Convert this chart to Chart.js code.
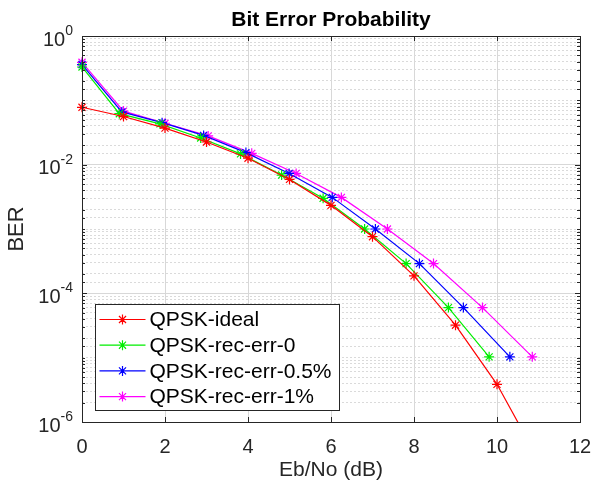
<!DOCTYPE html>
<html>
<head>
<meta charset="utf-8">
<script src="https://cdn.jsdelivr.net/npm/chart.js@4.4.1/dist/chart.umd.min.js"></script>
<style>
  html, body { margin: 0; padding: 0; background: #fff; }
  canvas { display: block; }
</style>
</head>
<body>
<canvas id="ber" width="595" height="486"></canvas>
<script>
// Eb/No (dB) and measured BER for each receiver
var ebnoIdeal = [0, 1, 2, 3, 4, 5, 6, 7, 8, 9, 10, 11];
var berIdeal  = [7.8e-2, 5.6e-2, 3.7e-2, 2.25e-2, 1.26e-2, 5.9e-3, 2.33e-3, 7.6e-4, 1.87e-4, 3.2e-5, 3.85e-6, 2.6e-7];

var ebnoErr0 = [0, 0.9, 1.88, 2.86, 3.82, 4.81, 5.81, 6.81, 7.81, 8.83, 9.81];
var berErr0  = [0.33, 0.062, 0.043, 0.026, 0.0147, 0.0069, 0.0030, 1.0e-3, 2.9e-4, 6.0e-5, 1.03e-5];

var ebnoErr05 = [0, 0.96, 1.93, 2.93, 3.95, 4.99, 6.03, 7.07, 8.13, 9.19, 10.31];
var berErr05  = [0.36, 0.066, 0.045, 0.0285, 0.0154, 0.0073, 0.0031, 1.0e-3, 2.9e-4, 6.0e-5, 1.03e-5];

var ebnoErr1 = [0, 1.0, 2.0, 3.04, 4.09, 5.16, 6.25, 7.36, 8.47, 9.65, 10.85];
var berErr1  = [0.39, 0.068, 0.044, 0.028, 0.015, 0.0073, 0.0031, 1.0e-3, 2.9e-4, 6.0e-5, 1.03e-5];

var names  = ['QPSK-ideal', 'QPSK-rec-err-0', 'QPSK-rec-err-0.5%', 'QPSK-rec-err-1%'];
var colors = ['#ff0000', '#00ee00', '#0000ff', '#ff00ff'];

// labelled decades on the BER axis (exponents)
var yLabelExp = [0, -2, -4, -6];

var TITLE = 'Bit Error Probability';
var FONT = "'Liberation Sans', Arial, sans-serif";
Chart.defaults.font.family = FONT;

function pts(xs, ys) {
  return xs.map(function (x, i) { return { x: x, y: ys[i] }; });
}

function isMajor(v) {
  var e = Math.round(Math.log10(v));
  return Math.abs(v / Math.pow(10, e) - 1) < 1e-6 && yLabelExp.indexOf(e) >= 0;
}

function star(ctx, cx, cy, r) {
  var d = r * Math.SQRT1_2;
  ctx.moveTo(cx - r, cy); ctx.lineTo(cx + r, cy);
  ctx.moveTo(cx, cy - r); ctx.lineTo(cx, cy + r);
  ctx.moveTo(cx - d, cy - d); ctx.lineTo(cx + d, cy + d);
  ctx.moveTo(cx - d, cy + d); ctx.lineTo(cx + d, cy - d);
}

function series(i, xs, ys) {
  return {
    label: names[i],
    data: pts(xs, ys),
    borderColor: colors[i],
    backgroundColor: colors[i],
    borderWidth: 1.2,
    pointStyle: 'star',
    pointRadius: 5,
    pointBorderWidth: 1.2,
    pointHoverRadius: 5,
    tension: 0,
    clip: { left: 8, top: 8, right: 8, bottom: 0 }
  };
}

// title over the axes, box, inner ticks, 10^n labels and the legend
var frame = {
  id: 'frame',
  afterDraw: function (chart) {
    var ctx = chart.ctx, a = chart.chartArea;
    var xs = chart.scales.x, ys = chart.scales.y;
    ctx.save();

    ctx.fillStyle = '#000';
    ctx.font = 'bold 21px ' + FONT;
    ctx.textAlign = 'center';
    ctx.textBaseline = 'middle';
    ctx.fillText(TITLE, (a.left + a.right) / 2, a.top - 16);

    ctx.strokeStyle = '#262626';
    ctx.lineWidth = 1;
    ctx.beginPath();
    ys.ticks.forEach(function (t) {
      var py = Math.round(ys.getPixelForValue(t.value)) + 0.5;
      var len = isMajor(t.value) ? 5 : 3;
      ctx.moveTo(a.left, py); ctx.lineTo(a.left + len, py);
      ctx.moveTo(a.right, py); ctx.lineTo(a.right - len, py);
    });
    xs.ticks.forEach(function (t) {
      var px = Math.round(xs.getPixelForValue(t.value)) + 0.5;
      ctx.moveTo(px, a.bottom); ctx.lineTo(px, a.bottom - 5);
      ctx.moveTo(px, a.top); ctx.lineTo(px, a.top + 5);
    });
    ctx.stroke();
    ctx.strokeRect(a.left + 0.5, a.top + 0.5, a.right - a.left, a.bottom - a.top);

    // y tick labels with superscript exponent
    ctx.fillStyle = '#262626';
    ctx.textBaseline = 'middle';
    ctx.textAlign = 'left';
    yLabelExp.forEach(function (e) {
      var py = ys.getPixelForValue(Math.pow(10, e));
      var sup = String(e);
      ctx.font = '14px ' + FONT;
      var ws = ctx.measureText(sup).width;
      ctx.font = '20px ' + FONT;
      var wb = ctx.measureText('10').width;
      var right = a.left - 9;
      ctx.fillText('10', right - ws - wb, py + 4);
      ctx.font = '14px ' + FONT;
      ctx.fillText(sup, right - ws, py - 5);
    });

    // legend
    var bx = a.left + 13.5, bw = 244, bh = 106, by = a.bottom - 117.5;
    ctx.fillStyle = '#fff';
    ctx.fillRect(bx, by, bw, bh);
    ctx.strokeStyle = '#262626';
    ctx.strokeRect(bx, by, bw, bh);
    chart.data.datasets.forEach(function (ds, i) {
      var ry = by + 15 + i * 25.7;
      ctx.strokeStyle = ds.borderColor;
      ctx.lineWidth = 1.2;
      ctx.beginPath();
      ctx.moveTo(bx + 4, ry); ctx.lineTo(bx + 50, ry);
      star(ctx, bx + 27, ry, 5);
      ctx.stroke();
      ctx.fillStyle = '#000';
      ctx.font = '21px ' + FONT;
      ctx.fillText(ds.label, bx + 54, ry + 1);
    });
    ctx.restore();
  }
};

new Chart(document.getElementById('ber'), {
  type: 'line',
  data: {
    datasets: [
      series(0, ebnoIdeal, berIdeal),
      series(1, ebnoErr0, berErr0),
      series(2, ebnoErr05, berErr05),
      series(3, ebnoErr1, berErr1)
    ]
  },
  options: {
    responsive: false,
    animation: false,
    events: [],
    layout: { padding: { left: 0, right: 15, top: 36, bottom: 0 } },
    plugins: {
      legend: { display: false },
      tooltip: { enabled: false },
      title: { display: false }
    },
    scales: {
      x: {
        type: 'linear',
        min: 0, max: 12,
        ticks: { stepSize: 2, color: '#262626', font: { size: 20 }, padding: 13 },
        grid: { color: '#d8d8d8', drawTicks: false },
        border: { display: false },
        title: { display: true, text: 'Eb/No (dB)', color: '#262626', font: { size: 21 }, padding: { top: 0, bottom: 3 } },
        afterFit: function (s) { s.height = 64; s.paddingLeft = 0; s.paddingRight = 0; }
      },
      y: {
        type: 'logarithmic',
        min: 1e-6, max: 1,
        ticks: { autoSkip: false, callback: function () { return ''; } },
        grid: {
          drawTicks: false,
          color: function (c) { return c.tick && isMajor(c.tick.value) ? '#d8d8d8' : '#dadada'; }
        },
        border: {
          display: false,
          dash: function (c) { return c.tick && isMajor(c.tick.value) ? [] : [2, 2]; }
        },
        title: { display: true, text: 'BER', color: '#262626', font: { size: 22 }, padding: { top: 4 } },
        afterFit: function (s) { s.width = 82; s.paddingTop = 0; s.paddingBottom = 0; }
      }
    }
  },
  plugins: [frame]
});
</script>
</body>
</html>
